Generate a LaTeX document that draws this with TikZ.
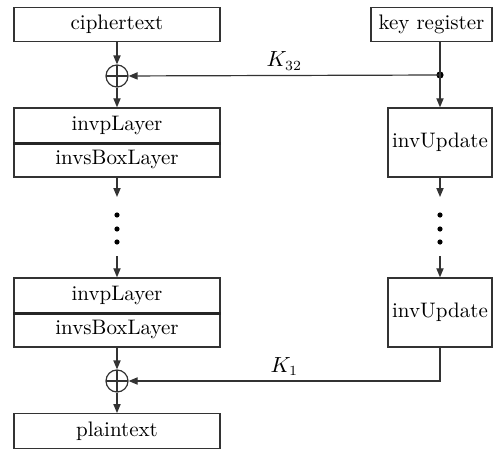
\documentclass[tikz,border=0pt]{standalone}
\usetikzlibrary{arrows.meta,calc}
\begin{document}
\begin{tikzpicture}[x=0.5pt,y=-0.5pt,
  every node/.style={font=\fontsize{10.5}{12}\selectfont},
  line/.style={draw=black!80,line width=0.6pt},
  arr/.style={line,-{Triangle[length=4.5pt,width=3.6pt]}},
  box/.style={draw=black!80,line width=0.7pt,inner sep=0pt,minimum width=103pt,minimum height=17.25pt},
  updbox/.style={draw=black!80,line width=0.7pt,inner sep=0pt,minimum width=52pt,minimum height=34.5pt},
  divider/.style={draw=black!85,line width=1.3pt},
  xorop/.style={circle,draw=black!80,line width=0.6pt,minimum size=11pt,inner sep=0pt,
    path picture={\draw[black!80,line width=0.6pt]
      (path picture bounding box.north) -- (path picture bounding box.south)
      (path picture bounding box.west) -- (path picture bounding box.east);}},
  vdot/.style={circle,fill=black,inner sep=0pt,minimum size=2.6pt}]
\useasboundingbox (0,0) rectangle (499,450);

% left column: data path
\node[box] (cipher) at (117,24.5) {ciphertext};
\node[xorop] (xa) at (117,76) {};
\node[box] (pa) at (117,125.25) {invpLayer};
\node[box] (sa) at (117,159.75) {invsBoxLayer};
\node[box] (pb) at (117,295.25) {invpLayer};
\node[box] (sb) at (117,329.75) {invsBoxLayer};
\node[xorop] (xb) at (117,381) {};
\node[box] (plain) at (117,431) {plaintext};

% heavier rule between the two halves of each layer block
\draw[divider] (pa.south west) -- (pa.south east);
\draw[divider] (pb.south west) -- (pb.south east);

% right column: key schedule
\node[box,minimum width=60.5pt] (key) at (431.5,24.5) {key register};
\node[updbox] (ua) at (440,142.5) {invUpdate};
\node[updbox] (ub) at (440,312.5) {invUpdate};

% ellipsis dots
\foreach \y [count=\i] in {215,229,242} {
  \node[vdot] (ld\i) at (117,\y) {};
  \node[vdot] (rd\i) at (440,\y) {};
}
\coordinate (la) at (117,197);
\coordinate (lb) at (117,256);
\coordinate (ra) at (440,197);
\coordinate (rb) at (440,256);

% key tap point and K1 corner
\coordinate (ktop) at (key.south -| ua.north);
\node[vdot,minimum size=3.6pt] (tap) at (440,75) {};
\coordinate (corner) at (ub.south |- xb.east);

% data path connectors
\draw[arr] (cipher) -- (xa);
\draw[arr] (xa) -- (pa);
\draw[arr] (sa) -- (la);
\draw[arr] (lb) -- (pb);
\draw[arr] (sb) -- (xb);
\draw[arr] (xb) -- (plain);

% key path connectors
\draw[line] (ktop) -- (tap.center);
\draw[arr] (tap.center) -- (ua);
\draw[arr] (tap.center) -- node[above,pos=0.5,yshift=-1pt] {$K_{32}$} (xa);
\draw[arr] (ua) -- (ra);
\draw[arr] (rb) -- (ub);
\draw[arr] (ub.south) -- (corner) -- node[above,pos=0.5,yshift=-1pt] {$K_{1}$} (xb);
\end{tikzpicture}
\end{document}
